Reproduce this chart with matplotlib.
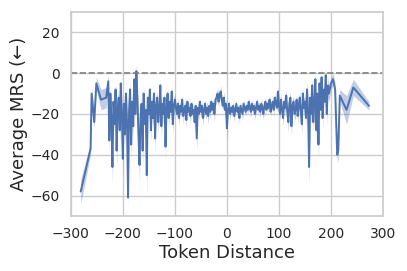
import numpy as np
import matplotlib
matplotlib.use("Agg")
import matplotlib.pyplot as plt
import seaborn as sns

# sparse points before the dense region
head_x = [-281, -262, -260, -255, -251, -242, -232, -228]
head_y = [-58, -37, -10, -24, -5, -13, -12, -4]
head_ci = [6, 3, 3, 3, 3, 5, 5, 3]

# dense region, token distance -226 .. 196 every 2 tokens
dense_x = list(range(-226, 198, 2))
dense_y = [
    # -226 .. -152
    -33, -10, -22, -46, -14, -25, -8, -38, -18, -12,
    -28, -5, -20, -42, -15, -30, -10, -24, -61, -18,
    -8, -35, -14, -26, -3, -20, 1, -12, -30, -45,
    -22, -15, -38, -10, -25, -18, -50, -12,
    # -150 .. -100
    -20, -8, -28, -14, -22, -10, -32, -16, -12, -24,
    -18, -6, -26, -15, -20, -12, -36, -17, -10, -22,
    -14, -19, -9, -25, -16, -13,
    # -98 .. -2
    -17, -20, -15, -22, -16, -19, -13, -21, -18, -16,
    -23, -14, -19, -17, -21, -15, -20, -18, -24, -16,
    -32, -17, -20, -14, -19, -16, -22, -18, -15, -20,
    -17, -21, -16, -19, -14, -18, -15, -20, -13, -12,
    -10, -14, -11, -9, -13, -16, -12, -18, -15,
    # 0 .. 98
    -27, -18, -15, -20, -17, -19, -16, -21, -18, -15,
    -19, -17, -22, -16, -18, -20, -15, -17, -19, -16,
    -18, -14, -17, -19, -15, -18, -16, -20, -17, -14,
    -18, -16, -19, -15, -17, -20, -16, -14, -18, -15,
    -17, -13, -19, -16, -14, -18, -12, -15, -17, -9,
    # 100 .. 196
    -16, -20, -13, -18, -22, -14, -17, -11, -19, -24,
    -15, -12, -26, -16, -14, -20, -18, -13, -21, -16,
    -12, -19, -25, -10, -17, -14, -22, -8, -18, -46,
    -12, -20, -6, -24, -15, -3, -28, -10, -35, -5,
    -18, -2, -22, -8, -14, -1, -20, -6, -10,
]
dense_ci = [
    6, 4, 5, 9, 4, 6, 3, 8, 5, 4, 7, 3, 5, 9, 4, 7, 3, 6, 4, 5,
    3, 8, 4, 6, 2, 5, 4, 3, 7, 9, 5, 4, 8, 3, 6, 5, 10, 4,
    4, 3, 6, 4, 5, 3, 7, 4, 3, 5, 4, 3, 6, 4, 5, 3, 7, 4, 3, 5,
    4, 4, 3, 5, 4, 3,
    3, 2, 3, 4, 2, 3, 2, 4, 3, 2, 4, 2, 3, 3, 4, 2, 3, 3, 5, 2,
    6, 3, 3, 2, 3, 2, 4, 3, 2, 3, 3, 4, 2, 3, 2, 3, 2, 4, 3, 2,
    3, 3, 2, 3, 3, 2, 3, 4, 2,
    6, 2, 2, 3, 2, 2, 2, 3, 2, 2, 2, 2, 3, 2, 2, 3, 2, 2, 2, 2,
    2, 2, 2, 3, 2, 2, 2, 3, 2, 2, 2, 2, 3, 2, 2, 3, 2, 2, 2, 2,
    2, 3, 2, 2, 2, 3, 2, 2, 2, 3,
    3, 3, 3, 3, 4, 3, 3, 3, 3, 5, 3, 3, 5, 3, 3, 4, 3, 3, 4, 3,
    3, 4, 5, 3, 4, 3, 4, 4, 4, 10, 4, 5, 4, 6, 4, 4, 7, 4, 8, 4,
    5, 4, 5, 4, 4, 4, 5, 4, 4,
]

# sparse points after the dense region
tail_x = [200, 204, 208, 212, 214, 217, 230, 243, 273]
tail_y = [-5, -3, -8, -40, -38, -11, -18, -7, -16]
tail_ci = [3, 3, 3, 4, 4, 3, 7, 4, 2]

x = np.array(head_x + dense_x + tail_x)
y = np.array(head_y + dense_y + tail_y, dtype=float)
ci = np.array(head_ci + dense_ci + tail_ci, dtype=float)

sns.set_theme(style="whitegrid")
color = sns.color_palette("deep")[0]

fig = plt.figure(figsize=(4.07, 2.71), dpi=100)
ax = fig.add_axes([0.174, 0.203, 0.767, 0.753])

ax.fill_between(x, y - ci, y + ci, color=color, alpha=0.35, linewidth=0)
ax.plot(x, y, color=color, linewidth=1.4)
ax.axhline(0, color="gray", linestyle="--", linewidth=1.2)

ax.set_xlim(-300, 300)
ax.set_ylim(-70, 30)
ax.set_xticks([-300, -200, -100, 0, 100, 200, 300])
ax.set_yticks([-60, -40, -20, 0, 20])
ax.tick_params(labelsize=10, labelcolor="0.15", pad=2)
ax.set_xlabel("Token Distance", fontsize=13, color="0.15", labelpad=2)
ax.set_ylabel("Average MRS (←)", fontsize=13, color="0.15", labelpad=2)

fig.savefig("out.png", dpi=100)
